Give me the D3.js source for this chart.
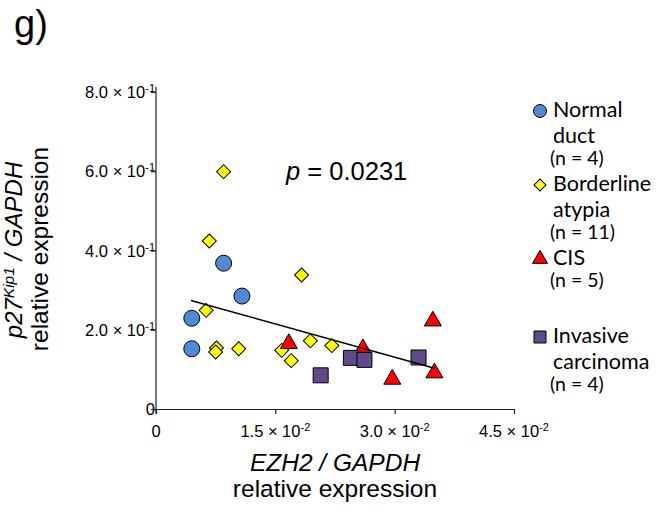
<!DOCTYPE html>
<html>
<head>
<meta charset="utf-8">
<script src="https://cdn.jsdelivr.net/npm/d3@7"></script>
<style>
  body { margin: 0; background: #fff; }
  text { font-family: "Liberation Sans", Arial, sans-serif; fill: #000; }
  .legend text { font-family: Lato, "Open Sans", sans-serif; }
</style>
</head>
<body>
<div id="chart"></div>
<script>
// values
var normalX = [0.0045, 0.0045, 0.0085, 0.0108]
var normalY = [0.229, 0.152, 0.368, 0.285]
var borderX = [0.0085, 0.0067, 0.0063, 0.0076, 0.0075, 0.0104, 0.0158, 0.0170, 0.0183, 0.0194, 0.0221]
var borderY = [0.599, 0.424, 0.249, 0.154, 0.144, 0.152, 0.148, 0.122, 0.338, 0.172, 0.160]
var cisX = [0.0167, 0.0260, 0.0297, 0.0348, 0.0350]
var cisY = [0.165, 0.152, 0.075, 0.222, 0.091]
var invX = [0.0207, 0.0245, 0.0262, 0.0330]
var invY = [0.085, 0.129, 0.124, 0.130]
var trendX = [0.0044, 0.0350]
var trendY = [0.274, 0.103]

var xTicks = [0, 0.015, 0.03, 0.045]
var xTickLabels = [["0", ""], ["1.5 \u00d7 10", "-2"], ["3.0 \u00d7 10", "-2"], ["4.5 \u00d7 10", "-2"]]
var yTicks = [0, 0.2, 0.4, 0.6, 0.8]
var yTickLabels = [["0", ""], ["2.0 \u00d7 10", "-1"], ["4.0 \u00d7 10", "-1"], ["6.0 \u00d7 10", "-1"], ["8.0 \u00d7 10", "-1"]]

var groups = [
  { name: ["Normal", "duct"], n: "(n = 4)", shape: "circle", color: "#4f8ad6" },
  { name: ["Borderline", "atypia"], n: "(n = 11)", shape: "diamond", color: "#ffff00" },
  { name: ["CIS"], n: "(n = 5)", shape: "triangle", color: "#ff0000" },
  { name: ["Invasive", "carcinoma"], n: "(n = 4)", shape: "square", color: "#5f4b8b" }
]

var svg = d3.select("#chart").append("svg")
  .attr("width", 662)
  .attr("height", 520)

var x = d3.scaleLinear().domain([0, 0.045]).range([156, 514])
var y = d3.scaleLinear().domain([0, 0.8]).range([409, 92])

// axes
var xAxis = svg.append("g")
  .attr("transform", "translate(0," + y(0) + ")")
  .call(d3.axisBottom(x).tickValues(xTicks).tickSize(5).tickSizeOuter(0).tickFormat(""))
var yAxis = svg.append("g")
  .attr("transform", "translate(" + x(0) + ",0)")
  .call(d3.axisLeft(y).tickValues(yTicks).tickSize(5).tickSizeOuter(0).tickFormat(""))
svg.selectAll(".domain, .tick line").attr("stroke", "#222").attr("stroke-width", 1.2)
yAxis.select(".domain").attr("d", "M0,87V414")

// tick labels with superscripts
xTicks.forEach(function (v, i) {
  var t = svg.append("text")
    .attr("x", x(v)).attr("y", 437)
    .attr("text-anchor", "middle")
    .style("font-size", "16.5px")
  t.append("tspan").text(xTickLabels[i][0])
  t.append("tspan").attr("dy", -6).style("font-size", "11px").text(xTickLabels[i][1])
})
yTicks.forEach(function (v, i) {
  var t = svg.append("text")
    .attr("x", x(0) - 1).attr("y", y(v) + 6)
    .attr("text-anchor", "end")
    .style("font-size", "16.5px")
  t.append("tspan").text(yTickLabels[i][0])
  t.append("tspan").attr("dy", -6).style("font-size", "11px").text(yTickLabels[i][1])
})

function symbolPath(shape, s) {
  if (shape == "circle") return d3.symbol(d3.symbolCircle, Math.PI * s * s)()
  if (shape == "diamond") return d3.symbol(d3.symbolSquare, 2 * s * s)()
  if (shape == "triangle") return d3.symbol(d3.symbolTriangle, Math.sqrt(3) / 4 * 4 * s * s)()
  return d3.symbol(d3.symbolSquare, 4 * s * s)()
}

function drawPoints(xs, ys, g, size) {
  svg.append("g").selectAll("path")
    .data(xs)
    .enter()
    .append("path")
    .attr("d", symbolPath(g.shape, size))
    .attr("transform", function (d, i) {
      var rot = g.shape == "diamond" ? " rotate(45)" : ""
      return "translate(" + x(d) + "," + y(ys[i]) + ")" + rot
    })
    .attr("fill", g.color)
    .attr("stroke", "#000")
    .attr("stroke-width", 1)
}

drawPoints(normalX, normalY, groups[0], 8)
drawPoints(borderX, borderY, groups[1], 7)
drawPoints(cisX, cisY, groups[2], 8.5)
drawPoints(invX, invY, groups[3], 7.5)

// trend line
svg.append("path")
  .datum(trendX)
  .attr("d", d3.line().x(function (d) { return x(d) }).y(function (d, i) { return y(trendY[i]) }))
  .attr("stroke", "#000")
  .attr("stroke-width", 1.5)
  .attr("fill", "none")

// p value
var pt = svg.append("text").attr("x", 286).attr("y", 180).style("font-size", "25.5px")
pt.append("tspan").style("font-style", "italic").text("p")
pt.append("tspan").text(" = 0.0231")

// panel letter
svg.append("text").attr("x", 14).attr("y", 37).style("font-size", "38px").text("g)")

// axis titles
svg.append("text").attr("x", 335).attr("y", 471).attr("text-anchor", "middle")
  .style("font-size", "24.5px").style("font-style", "italic").text("EZH2 / GAPDH")
svg.append("text").attr("x", 335).attr("y", 497).attr("text-anchor", "middle")
  .style("font-size", "24.5px").text("relative expression")

var yt = svg.append("text")
  .attr("transform", "translate(22,250) rotate(-90)")
  .attr("text-anchor", "middle")
  .style("font-size", "24px").style("font-style", "italic")
yt.append("tspan").text("p27")
yt.append("tspan").attr("dy", -8).style("font-size", "15.5px").text("Kip1")
yt.append("tspan").attr("dy", 8).text(" / GAPDH")
svg.append("text")
  .attr("transform", "translate(48,249) rotate(-90)")
  .attr("text-anchor", "middle")
  .style("font-size", "24.5px").text("relative expression")

// legend
var legendY = [111, 185, 259, 337]
var lg = svg.append("g").attr("class", "legend")
groups.forEach(function (g, i) {
  var sz = g.shape == "circle" ? 6.5 : g.shape == "diamond" ? 6 : g.shape == "triangle" ? 7.5 : 6
  lg.append("path")
    .attr("d", symbolPath(g.shape, sz))
    .attr("transform", "translate(540," + legendY[i] + ")" + (g.shape == "diamond" ? " rotate(45)" : ""))
    .attr("fill", g.color)
    .attr("stroke", "#000")
    .attr("stroke-width", 1)
  g.name.forEach(function (line, j) {
    lg.append("text").attr("x", 553).attr("y", legendY[i] + 6 + j * 26)
      .style("font-size", "21.5px").text(line)
  })
  lg.append("text").attr("x", 550).attr("y", legendY[i] + 6 + (g.name.length - 1) * 26 + 22)
    .style("font-size", "19.5px").text(g.n)
})
</script>
</body>
</html>
